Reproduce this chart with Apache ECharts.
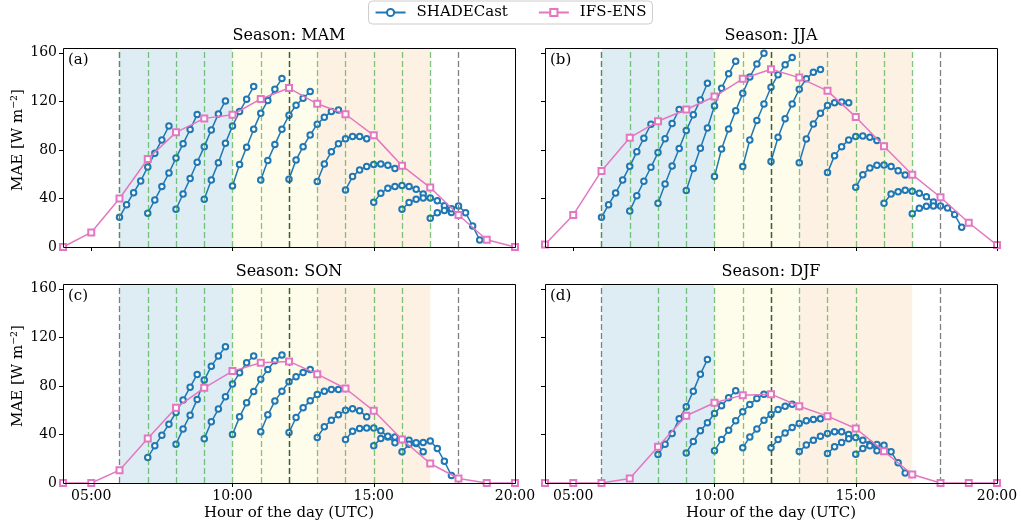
<!DOCTYPE html>
<html>
<head>
<meta charset="utf-8">
<script src="https://cdn.jsdelivr.net/npm/echarts@6.0.0/dist/echarts.min.js"></script>
<style>
  html, body { margin: 0; padding: 0; background: #fff; }
  #main { width: 1021px; height: 528px; }
</style>
</head>
<body>
<div id="main"></div>
<script>
// hours of the day (UTC) for IFS-ENS, lead time offsets (minutes) for SHADECast runs
const hours = [4, 5, 6, 7, 8, 9, 10, 11, 12, 13, 14, 15, 16, 17, 18, 19, 20]
const leadMinutes = [0, 15, 30, 45, 60, 75, 90, 105]
const seasons = ['MAM', 'JJA', 'SON', 'DJF']
const letters = ['(a)', '(b)', '(c)', '(d)']
const xTicks = [5, 10, 15, 20]
const yTicks = [0, 40, 80, 120, 160]

// IFS-ENS MAE, one value per hour
const ifsMAM = [0, 12, 40, 72.5, 94.5, 106, 109, 122, 131, 118, 109.4, 92, 67, 49, 26.4, 6, 0]
const ifsJJA = [2, 26.4, 62.7, 90.1, 103.6, 113.3, 124, 138.6, 146.5, 139.6, 128.7, 107.2, 83, 59.6, 41, 20, 1.6]
const ifsSON = [0, 0, 10.6, 36.7, 62, 78.4, 92.2, 99.1, 100.2, 89.7, 77.9, 59.5, 35.9, 16.1, 3.7, 0, 0]
const ifsDJF = [0, 0, 0, 3.7, 29.8, 55.4, 66.1, 72.4, 73.2, 63.3, 55.1, 44.9, 26.2, 7, 0, 0, 0]

// SHADECast runs: start hour + MAE for each lead time
const startMAM = [6, 7, 8, 9, 10, 11, 12, 13, 14, 15, 16, 17]
const shadeMAM = [
    [24.5, 34.9, 44.8, 54.4, 66, 77.3, 88.2, 99.8],
    [27.8, 38.8, 49.8, 61, 73.4, 85, 96.8, 109.1],
    [31.1, 43.7, 56.4, 69.8, 82.7, 96.5, 109.7, 120.4],
    [39.3, 55.3, 69.5, 85.5, 99.8, 111.6, 121.8, 132.2],
    [50.3, 67.9, 82.2, 97.1, 110.3, 120.7, 130, 138.8],
    [55.3, 71.2, 84.4, 97.1, 108.6, 116.8, 122.6, 128.1],
    [55.8, 71.8, 82.7, 92.4, 101.2, 107, 111.6, 113],
    [53.9, 68.5, 78.4, 85, 89.3, 91, 91, 89.3],
    [47, 58, 63.5, 66.3, 67.9, 68.5, 67.4, 64.6],
    [36.8, 44.3, 48.4, 49.8, 50.6, 49.8, 47.6, 43.7],
    [31.1, 36.6, 39.3, 40.4, 40.4, 38.2, 34, 28.5],
    [23.6, 28.3, 30, 31.5, 33.8, 28.3, 17.3, 5.8]
]
const startJJA = [6, 7, 8, 9, 10, 11, 12, 13, 14, 15, 16, 17]
const shadeJJA = [
    [24.5, 34.9, 44.5, 55.3, 66.5, 78.4, 89.6, 101.2],
    [29.7, 42.3, 54.2, 65.7, 77.8, 89.3, 101.7, 113.3],
    [36, 52, 66.8, 81.1, 96, 108.9, 121.2, 135],
    [46.5, 64.6, 81.4, 98.1, 116.3, 130.9, 142.7, 153.1],
    [58, 80.8, 97.3, 112.2, 126.7, 140, 150.9, 159.7],
    [66.3, 88.2, 104.2, 117.9, 131.7, 141.9, 150.1, 156.1],
    [70.4, 90.5, 105.6, 117.9, 130, 138.6, 144, 146.2],
    [69.5, 89.1, 101.4, 110.2, 116.6, 118.8, 119.6, 118.8],
    [61.3, 75.3, 82.7, 88.2, 91, 91.5, 90.5, 87.7],
    [49.2, 59.6, 65.2, 67.4, 67.6, 66.3, 62.9, 59.4],
    [36, 43.7, 45.6, 46.7, 45.9, 44.3, 41.5, 37.1],
    [27.5, 31.9, 33.5, 33.8, 33.8, 32.2, 26.7, 16.2]
]
const startSON = [7, 8, 9, 10, 11, 12, 13, 14, 15, 16]
const shadeSON = [
    [21, 30.6, 39.4, 48.5, 58.1, 68.3, 79, 89.5],
    [32, 44.6, 55.9, 68.9, 84.8, 96.3, 104.6, 112.2],
    [36.4, 50.4, 60.9, 71, 81.5, 90.8, 99.1, 104.6],
    [40, 54.5, 66.1, 75.5, 85.6, 93.6, 100.7, 105.4],
    [42.2, 56.2, 67.5, 75.7, 83.4, 87.5, 91.1, 93.6],
    [41.6, 54, 62, 67.7, 73, 75.7, 77.1, 77.1],
    [37.5, 46.3, 51.8, 56.2, 60, 61.1, 59.5, 54.5],
    [35.9, 42.7, 45, 45.4, 45.4, 43, 38, 33.1],
    [30.6, 36.7, 38.6, 38, 35.9, 35.3, 32.6, 25.7],
    [25.7, 32, 33.1, 33.4, 34.7, 28.4, 17.9, 6.1]
]
const startDJF = [8, 9, 10, 11, 12, 13, 14, 15]
const shadeDJF = [
    [23.5, 32, 40.8, 52.9, 62.8, 75.7, 89.7, 101.8],
    [24.8, 34.2, 43, 49.6, 57.3, 63.6, 70.2, 76],
    [26.5, 35.9, 43.5, 51.2, 58.7, 64.7, 69.7, 73.2],
    [29, 38, 44.6, 51.8, 56.5, 60.6, 63.3, 65],
    [29, 35.9, 41.3, 45.8, 49.1, 51.2, 52.4, 52.9],
    [26, 31.4, 35.3, 38.6, 40.8, 42.2, 42.2, 40],
    [24.3, 29.8, 33.4, 36.4, 37.5, 35.3, 32, 26.5],
    [23.7, 28.4, 30.6, 31.8, 31.2, 25.7, 16.6, 8.3]
]

const ifsAll = [ifsMAM, ifsJJA, ifsSON, ifsDJF]
const startAll = [startMAM, startJJA, startSON, startDJF]
const shadeAll = [shadeMAM, shadeJJA, shadeSON, shadeDJF]

const font = 'DejaVu Serif'
const blue = '#1f77b4'
const pink = '#e377c2'
const W = 452, H = 199
const pos = [[63, 48], [545, 48], [63, 284], [545, 284]]

const fmtHour = v => (v < 10 ? '0' + v : '' + v) + ':00'

let grid = [], xAxis = [], yAxis = [], series = [], graphic = []

pos.forEach(([left, top], p) => {
    grid.push({ left, top, width: W, height: H, show: false })
    xAxis.push({
        type: 'value', gridIndex: p, min: 4, max: 20,
        axisLine: { show: false }, splitLine: { show: false },
        axisTick: { show: true, customValues: xTicks, length: 4, lineStyle: { color: '#000' } },
        axisLabel: {
            show: p >= 2, customValues: xTicks, formatter: fmtHour, margin: 6,
            fontFamily: font, fontSize: 14, color: '#000'
        }
    })
    yAxis.push({
        type: 'value', gridIndex: p, min: 0, max: 164,
        axisLine: { show: false }, splitLine: { show: false },
        axisTick: { show: true, customValues: yTicks, length: 4, lineStyle: { color: '#000' } },
        axisLabel: {
            show: p % 2 === 0, customValues: yTicks, margin: 6,
            fontFamily: font, fontSize: 14, color: '#000'
        }
    })

    // shaded periods and vertical guide lines
    let starts = startAll[p]
    let lines = [
        { xAxis: 6, lineStyle: { color: '#7f7f7f' } },
        { xAxis: 18, lineStyle: { color: '#7f7f7f' } },
        { xAxis: 12, lineStyle: { color: '#222' } }
    ]
    starts.forEach(h => lines.push({ xAxis: h, lineStyle: { color: 'rgba(44,160,44,0.6)' } }))
    series.push({
        type: 'line', xAxisIndex: p, yAxisIndex: p, data: [], silent: true, z: 1,
        markArea: {
            silent: true,
            data: [
                [{ xAxis: 6, itemStyle: { color: '#deedf4' } }, { xAxis: 10 }],
                [{ xAxis: 10, itemStyle: { color: '#fefcea' } }, { xAxis: 13 }],
                [{ xAxis: 13, itemStyle: { color: '#fdf1e4' } }, { xAxis: 17 }]
            ]
        },
        markLine: {
            silent: true, symbol: ['none', 'none'], label: { show: false },
            lineStyle: { type: [6, 3], width: 1.3 },
            data: lines
        }
    })

    shadeAll[p].forEach((run, i) => {
        series.push({
            name: 'SHADECast', type: 'line', xAxisIndex: p, yAxisIndex: p, z: 3,
            data: run.map((v, k) => [starts[i] + leadMinutes[k] / 60, v]),
            symbol: 'emptyCircle', symbolSize: 5.5, showAllSymbol: true,
            lineStyle: { color: blue, width: 1.5 },
            itemStyle: { color: blue, borderWidth: 1.4 }
        })
    })

    series.push({
        name: 'IFS-ENS', type: 'line', xAxisIndex: p, yAxisIndex: p, z: 5,
        data: hours.map((h, k) => [h, ifsAll[p][k]]),
        symbol: 'emptyRect', symbolSize: 6, showAllSymbol: true,
        lineStyle: { color: pink, width: 1.5 },
        itemStyle: { color: pink, borderWidth: 1.4 }
    })

    // frame, title, panel letter
    graphic.push({
        type: 'rect', silent: true, z: 100,
        shape: { x: left + 0.5, y: top + 0.5, width: W, height: H },
        style: { fill: null, stroke: '#000', lineWidth: 1 }
    })
    graphic.push({
        type: 'text', x: left + W / 2, y: top - 12, silent: true,
        style: { text: 'Season: ' + seasons[p], fontFamily: font, fontSize: 16, fill: '#000', textAlign: 'center', textVerticalAlign: 'middle' }
    })
    graphic.push({
        type: 'text', x: left + 5, y: top + 12, silent: true, z: 100,
        style: { text: letters[p], fontFamily: font, fontSize: 15, fill: '#000', textAlign: 'left', textVerticalAlign: 'middle' }
    })
    if (p % 2 === 0) {
        graphic.push({
            type: 'text', x: 18, y: top + 92, rotation: Math.PI / 2, silent: true,
            style: { text: 'MAE [W m⁻²]', fontFamily: font, fontSize: 15, fill: '#000', textAlign: 'center', textVerticalAlign: 'middle' }
        })
    }
    if (p >= 2) {
        graphic.push({
            type: 'text', x: left + W / 2, y: 513, silent: true,
            style: { text: 'Hour of the day (UTC)', fontFamily: font, fontSize: 15, fill: '#000', textAlign: 'center', textVerticalAlign: 'middle' }
        })
    }
})

var myChart = echarts.init(document.getElementById('main'))
myChart.setOption({
    animation: false,
    backgroundColor: '#fff',
    legend: {
        top: 1, left: 'center',
        data: ['SHADECast', 'IFS-ENS'],
        itemWidth: 30, itemHeight: 9, itemGap: 30,
        padding: [4, 6, 4, 6],
        borderColor: '#cccccc', borderWidth: 1, borderRadius: 4,
        textStyle: { fontFamily: font, fontSize: 15, color: '#000', padding: [0, 0, 0, 6] }
    },
    grid, xAxis, yAxis, series, graphic
})
</script>
</body>
</html>
